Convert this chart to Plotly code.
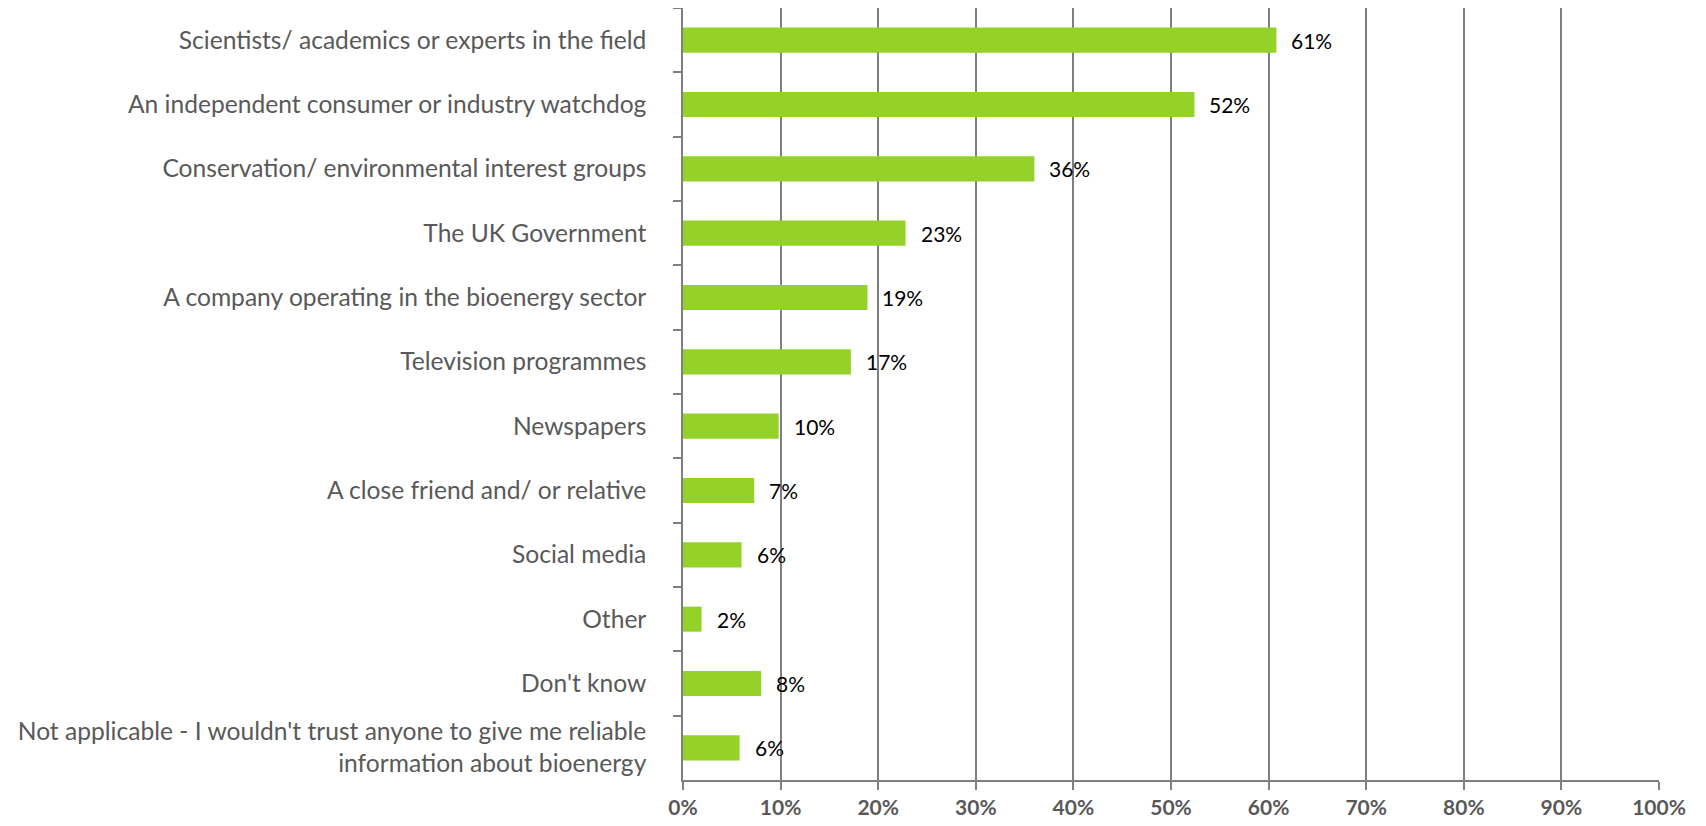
import plotly.graph_objects as go

categories = [
    "Scientists/ academics or experts in the field",
    "An independent consumer or industry watchdog",
    "Conservation/ environmental interest groups",
    "The UK Government",
    "A company operating in the bioenergy sector",
    "Television programmes",
    "Newspapers",
    "A close friend and/ or relative",
    "Social media",
    "Other",
    "Don't know",
    "Not applicable - I wouldn't trust anyone to give me reliable<br>information about bioenergy",
]
values = [0.608, 0.524, 0.360, 0.228, 0.189, 0.172, 0.098, 0.073, 0.060, 0.019, 0.080, 0.058]
labels = ["61%", "52%", "36%", "23%", "19%", "17%", "10%", "7%", "6%", "2%", "8%", "6%"]
x_ticks = [0, 0.1, 0.2, 0.3, 0.4, 0.5, 0.6, 0.7, 0.8, 0.9, 1.0]

GREEN = "#94D22A"
GRID = "#7F7F7F"
TXT = "#595959"
FONT = "Lato, 'Open Sans', sans-serif"

fig = go.Figure()
fig.add_trace(go.Bar(
    x=values, y=categories, orientation="h",
    marker=dict(color=GREEN, line=dict(width=0)),
    width=0.39, hoverinfo="skip",
))
for v, c, t in zip(values, categories, labels):
    fig.add_annotation(x=v, y=c, text=t, showarrow=False, xanchor="left",
                       xshift=13, font=dict(family=FONT, size=21, color="#000000"))

fig.update_layout(
    width=1690, height=810,
    margin=dict(l=675, r=39, t=0, b=38, autoexpand=False),
    paper_bgcolor="white", plot_bgcolor="white",
    showlegend=False,
    font=dict(family=FONT, color=TXT),
)
fig.update_xaxes(
    range=[0, 1], tickvals=x_ticks, tickformat=".0%",
    showgrid=True, gridcolor=GRID, gridwidth=1.5,
    showline=True, linecolor=GRID, linewidth=1.5,
    ticks="outside", ticklen=8, tickcolor=GRID, tickwidth=1.5,
    ticklabelstandoff=0, automargin=False,
    tickfont=dict(family=FONT, size=21, color=TXT, weight="bold"),
    zeroline=False, fixedrange=True,
)
fig.update_yaxes(
    autorange="reversed", categoryorder="array", categoryarray=categories,
    showline=True, linecolor=GRID, linewidth=1.5,
    ticks="outside", ticklen=8, tickcolor=GRID, tickwidth=1.5,
    tickson="boundaries", ticklabelstandoff=30, automargin=False,
    tickfont=dict(family=FONT, size=24.6, color=TXT),
    showgrid=False, zeroline=False, fixedrange=True,
)

fig.write_html("out.html", config={"displayModeBar": False})
